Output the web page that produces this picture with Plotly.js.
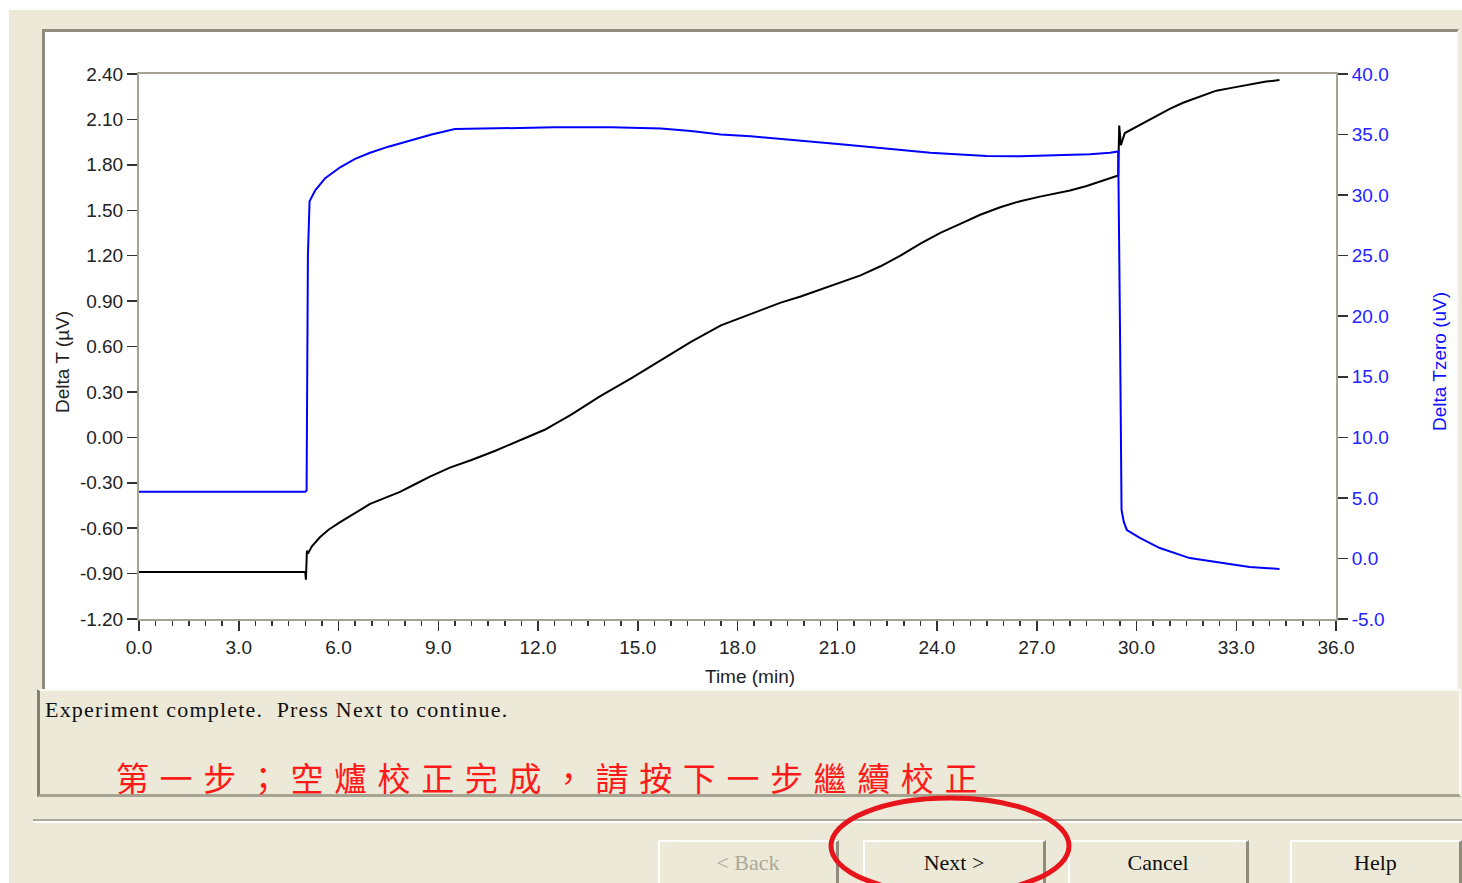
<!DOCTYPE html>
<html>
<head>
<meta charset="utf-8">
<script src="https://cdn.plot.ly/plotly-3.0.1.min.js"></script>
<style>
  html, body { margin:0; padding:0; }
  body { width:1462px; height:883px; position:relative; overflow:hidden; background:#ffffff; font-family:"Liberation Serif", serif; }
  .abs { position:absolute; box-sizing:border-box; }
  #bg { left:9px; top:10px; width:1453px; height:873px; background:#ECE9D8; }
  #panel { left:42px; top:29px; width:1417px; height:661px; background:#ffffff;
           border-top:3px solid #8F8C7E; border-left:3px solid #8F8C7E; border-right:2px solid #F4F2EA; }
  #chart { left:0; top:0; width:1462px; height:883px; }
  #status { left:37px; top:689px; width:1424px; height:108px; background:#ECE9D8;
            border-top:2px solid #FAF9F4; border-left:3px solid #85826F; border-bottom:3px solid #A7A391; border-right:2px solid #FAF9F4; }
  #msg { left:45px; top:697px; font-family:"Liberation Serif", serif; font-size:22px; color:#111; white-space:pre; letter-spacing:1.2px; }
  #zh { left:116px; top:753px; font-family:"Noto Sans CJK TC", sans-serif; font-size:33px; color:#FF1A1A; letter-spacing:10.6px; white-space:nowrap; font-weight:400; }
  #sep1 { left:33px; top:819px; width:1429px; height:2px; background:#ACA899; }
  #sep2 { left:33px; top:821px; width:1429px; height:2px; background:#FFFFFF; }
  .btn { top:840px; height:50px; background:#ECE9D8; border-top:2px solid #FFFFFF; border-left:2px solid #FFFFFF;
         border-right:3px solid #8F8C7E; border-bottom:3px solid #8F8C7E; text-align:center;
         font-family:"Liberation Serif", serif; font-size:22px; line-height:42px; color:#111; }
  #ell { left:0; top:0; width:1462px; height:883px; pointer-events:none; }
</style>
</head>
<body>
<div id="bg" class="abs"></div>
<div id="panel" class="abs"></div>
<div id="chart" class="abs"></div>
<div id="status" class="abs"></div>
<div id="msg" class="abs">Experiment complete.  Press Next to continue.</div>
<div id="zh" class="abs">第一步；空爐校正完成，請按下一步繼續校正</div>
<div id="sep1" class="abs"></div>
<div id="sep2" class="abs"></div>
<div class="abs btn" style="left:658px; width:181px; color:#ACA899;">&lt; Back</div>
<div class="abs btn" style="left:863px; width:183px;">Next &gt;</div>
<div class="abs btn" style="left:1068px; width:181px;">Cancel</div>
<div class="abs btn" style="left:1290px; width:172px;">Help</div>
<svg id="ell" class="abs" width="1462" height="883">
  <ellipse cx="950" cy="846" rx="119" ry="48" fill="none" stroke="#E8141B" stroke-width="5"/>
</svg>
<script>
// ---- data ----
const timeBlack = [0, 5.0, 5.02, 5.05, 5.1, 5.2, 5.44, 5.7, 6.05, 6.5, 6.95, 7.4, 7.85, 8.3, 8.75, 9.35, 10.0, 10.7,
  11.45, 12.2, 13.0, 13.86, 14.8, 15.7, 16.6, 17.5, 18.1, 18.7, 19.3, 19.9, 20.8, 21.7, 22.3, 22.9, 23.5, 24.1,
  24.7, 25.3, 25.9, 26.5, 27.1, 27.6, 28.0, 28.5, 28.9, 29.2, 29.45, 29.48, 29.5, 29.53, 29.65, 29.9, 30.5,
  31.0, 31.4, 31.9, 32.4, 32.9, 33.4, 33.9, 34.3];
const deltaT = [-0.89, -0.89, -0.94, -0.75, -0.76, -0.72, -0.66, -0.61, -0.56, -0.50, -0.44, -0.40, -0.36, -0.31,
  -0.26, -0.20, -0.15, -0.09, -0.02, 0.05, 0.15, 0.27, 0.39, 0.51, 0.63, 0.74, 0.79, 0.84, 0.89, 0.93, 1.00, 1.07,
  1.13, 1.20, 1.28, 1.35, 1.41, 1.47, 1.52, 1.56, 1.59, 1.61, 1.63, 1.66, 1.69, 1.71, 1.73, 2.06, 1.99, 1.93,
  2.01, 2.04, 2.11, 2.17, 2.21, 2.25, 2.29, 2.31, 2.33, 2.35, 2.36];

const timeBlue = [0, 5.0, 5.04, 5.08, 5.13, 5.3, 5.6, 6.05, 6.5, 6.95, 7.5, 8.15, 8.8, 9.5, 10.5, 11.2, 12.5, 14.2,
  15.0, 15.7, 16.6, 17.5, 18.4, 19.3, 20.2, 21.1, 22.3, 23.0, 23.8, 24.7, 25.5, 26.5, 27.1, 28.0, 28.6, 29.2,
  29.45, 29.5, 29.55, 29.62, 29.71, 30.1, 30.7, 31.6, 32.6, 33.4, 34.3];
const deltaTzero = [5.5, 5.5, 5.6, 25.0, 29.5, 30.4, 31.4, 32.3, 33.0, 33.5, 34.0, 34.5, 35.0, 35.45, 35.5, 35.55,
  35.6, 35.6, 35.55, 35.5, 35.3, 35.0, 34.85, 34.65, 34.45, 34.2, 33.9, 33.7, 33.5, 33.35, 33.23, 33.2, 33.25,
  33.3, 33.38, 33.5, 33.6, 20.0, 4.0, 3.0, 2.35, 1.7, 0.86, 0.03, -0.38, -0.71, -0.87];

const leftTickVals = [-1.2, -0.9, -0.6, -0.3, 0, 0.3, 0.6, 0.9, 1.2, 1.5, 1.8, 2.1, 2.4];
const leftTickText = ["-1.20", "-0.90", "-0.60", "-0.30", "0.00", "0.30", "0.60", "0.90", "1.20", "1.50", "1.80", "2.10", "2.40"];
const rightTickVals = [-5, 0, 5, 10, 15, 20, 25, 30, 35, 40];
const rightTickText = ["-5.0", "0.0", "5.0", "10.0", "15.0", "20.0", "25.0", "30.0", "35.0", "40.0"];
const xTickVals = [0, 3, 6, 9, 12, 15, 18, 21, 24, 27, 30, 33, 36];
const xTickText = ["0.0", "3.0", "6.0", "9.0", "12.0", "15.0", "18.0", "21.0", "24.0", "27.0", "30.0", "33.0", "36.0"];

const tickFont = {family: "Liberation Sans, Arial, sans-serif", size: 19, color: "#222"};
const frame = "#A8A495";

const traces = [
  {x: timeBlue, y: deltaTzero, yaxis: "y2", type: "scatter", mode: "lines",
   line: {color: "#0000FF", width: 2, shape: "linear"}, hoverinfo: "skip"},
  {x: timeBlack, y: deltaT, yaxis: "y", type: "scatter", mode: "lines",
   line: {color: "#000000", width: 2}, hoverinfo: "skip"}
];

const layout = {
  width: 1462, height: 883,
  margin: {l: 139, r: 126, t: 74, b: 264, pad: 0},
  paper_bgcolor: "rgba(0,0,0,0)", plot_bgcolor: "#FFFFFF",
  showlegend: false,
  xaxis: {range: [0, 36], tickvals: xTickVals, ticktext: xTickText, ticks: "outside", ticklen: 10,
    tickwidth: 1.5, tickcolor: "#333", showline: true, linecolor: frame, linewidth: 2, mirror: true,
    showgrid: false, zeroline: false, tickfont: tickFont,
    minor: {dtick: 0.5, tick0: 0, ticks: "outside", ticklen: 5, tickwidth: 1.5, tickcolor: "#333", showgrid: false}},
  yaxis: {range: [-1.2, 2.4], tickvals: leftTickVals, ticktext: leftTickText, ticks: "outside", ticklen: 10,
    tickwidth: 1.5, tickcolor: "#333", showline: true, linecolor: frame, linewidth: 2, mirror: true,
    showgrid: false, zeroline: false, tickfont: tickFont},
  yaxis2: {range: [-5, 40], overlaying: "y", side: "right", tickvals: rightTickVals, ticktext: rightTickText,
    ticks: "outside", ticklen: 10, tickwidth: 1.5, tickcolor: "#333", showline: true, linecolor: frame, linewidth: 2,
    showgrid: false, zeroline: false, tickfont: {family: tickFont.family, size: 19, color: "#2323FF"}},
  annotations: [
    {text: "Time (min)", xref: "paper", yref: "paper", x: 0.5104, y: 0, yshift: -57, xanchor: "center",
     yanchor: "middle", showarrow: false, font: {family: tickFont.family, size: 19, color: "#222"}},
    {text: "Delta T (µV)", xref: "paper", yref: "paper", x: 0, xshift: -76, y: 0.4716, textangle: -90,
     xanchor: "center", yanchor: "middle", showarrow: false, font: {family: tickFont.family, size: 19, color: "#222"}},
    {text: "Delta Tzero (uV)", xref: "paper", yref: "paper", x: 1, xshift: 104, y: 0.4716, textangle: -90,
     xanchor: "center", yanchor: "middle", showarrow: false, font: {family: tickFont.family, size: 19, color: "#1010FF"}}
  ]
};

Plotly.newPlot("chart", traces, layout, {displayModeBar: false, staticPlot: true});
</script>
</body>
</html>
